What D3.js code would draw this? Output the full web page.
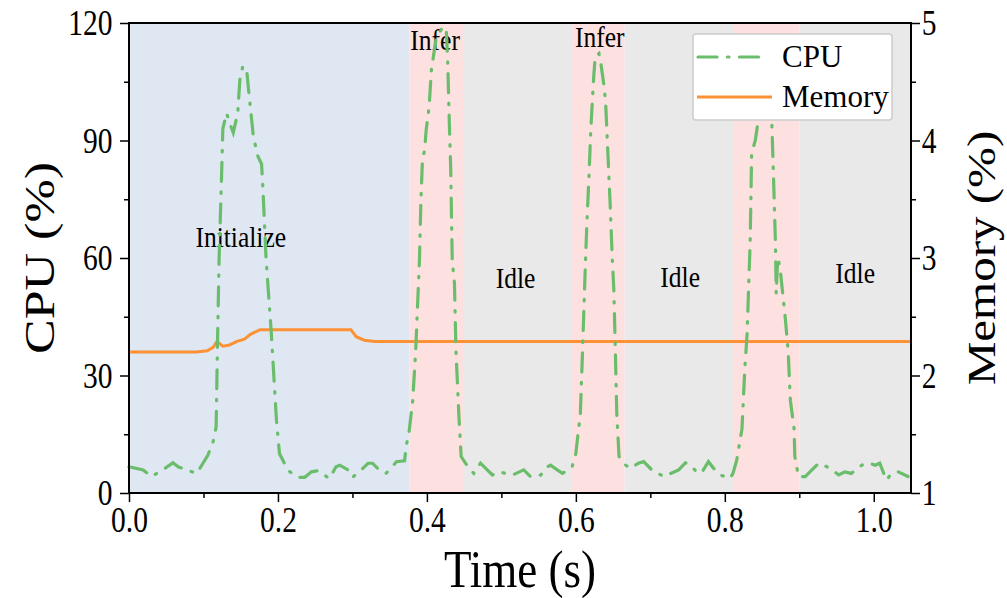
<!DOCTYPE html>
<html>
<head>
<meta charset="utf-8">
<script src="https://cdn.jsdelivr.net/npm/d3@7"></script>
<style>
  body { margin: 0; background: #fff; }
  text { font-family: "Liberation Serif", "Times New Roman", serif; fill: #000; }
</style>
</head>
<body>
<div id="container"></div>
<script>
// ---- data ----
const cpuTime = [0, 0.019, 0.030, 0.046, 0.059, 0.066, 0.077, 0.091, 0.106, 0.113, 0.117, 0.119, 0.121,
  0.124, 0.126, 0.131, 0.136, 0.140, 0.146, 0.149, 0.153, 0.158, 0.160, 0.167, 0.173, 0.178, 0.180, 0.184, 0.191,
  0.198, 0.202, 0.211, 0.216, 0.227, 0.236, 0.245, 0.254, 0.269, 0.278, 0.283, 0.294, 0.300, 0.309, 0.321, 0.327,
  0.336, 0.345, 0.352, 0.359, 0.370, 0.372, 0.376, 0.381, 0.385, 0.390, 0.392, 0.394, 0.397, 0.399, 0.403, 0.406,
  0.408, 0.412, 0.421, 0.426, 0.428, 0.430, 0.432, 0.434, 0.437, 0.439, 0.443, 0.446, 0.455, 0.463, 0.472, 0.481,
  0.488, 0.497, 0.506, 0.515, 0.530, 0.539, 0.553, 0.562, 0.566, 0.575, 0.582, 0.595, 0.600, 0.602, 0.606, 0.609,
  0.613, 0.615, 0.618, 0.620, 0.622, 0.624, 0.626, 0.631, 0.633, 0.638, 0.640, 0.642, 0.644, 0.646, 0.649, 0.651,
  0.653, 0.655, 0.658, 0.667, 0.673, 0.684, 0.691, 0.702, 0.718, 0.738, 0.747, 0.754, 0.763, 0.769, 0.778, 0.785,
  0.794, 0.807, 0.811, 0.816, 0.823, 0.827, 0.830, 0.832, 0.834, 0.835, 0.836, 0.841, 0.845, 0.853, 0.863, 0.865,
  0.868, 0.869, 0.871, 0.874, 0.881, 0.885, 0.888, 0.893, 0.894, 0.899, 0.908, 0.917, 0.926, 0.937, 0.944, 0.953,
  0.961, 0.970, 0.984, 0.993, 1.002, 1.008, 1.017, 1.024, 1.033, 1.046];
const cpuValue = [6.7, 5.9, 4.2, 6.0, 7.7, 6.7, 5.9, 5.0, 9.7, 13.1, 16.9, 40, 60,
  79, 93, 97, 94, 92, 97, 106, 109, 108, 104, 91, 86, 84, 77, 60, 41,
  18.6, 10.1, 6.7, 5.4, 4.0, 4.0, 5.4, 5.7, 3.7, 6.7, 7.1, 5.9, 4.0, 5.4, 7.6, 7.6,
  5.9, 5.0, 6.3, 8.0, 8.2, 11.8, 15.5, 23.7, 36.5, 59.5, 74.8, 85, 87.6, 92.7, 98.6, 108,
  110.5, 115.6, 119, 118.5, 109.7, 95.2, 82.5, 59.5, 53.5, 36.5, 19.5, 9.3, 6.7, 5.0, 7.6, 5.9,
  4.6, 5.4, 5.0, 4.6, 5.9, 4.2, 4.6, 6.7, 7.1, 5.9, 5.0, 6.7, 10.1, 13.5, 20, 36.5,
  59.5, 69.7, 82.5, 92.7, 99.5, 106.3, 111.4, 112.2, 110.5, 103.7, 99.5, 91, 82.5, 74, 59.5, 51.8,
  36.5, 20, 9.3, 7.1, 6.3, 7.6, 8.0, 5.9, 4.2, 5.9, 7.7, 7.1, 5.2, 5.2, 8.0, 6.3,
  4.6, 3.7, 5.0, 8.4, 16.3, 32.2, 40.8, 52.7, 63.7, 74.8, 86.7, 90.1, 95.2, 100, 95.2, 83.3,
  63.7, 51, 60, 57.8, 45, 36.5, 23.7, 16.5, 9.3, 4.2, 4.2, 5.9, 7.6, 6.7, 5.9, 4.6,
  5.4, 5.0, 7.1, 7.7, 7.1, 7.6, 3.3, 5.0, 5.4, 4.2];

const memTime = [0, 0.090, 0.105, 0.113, 0.118, 0.126, 0.135, 0.145, 0.155, 0.163, 0.176, 0.298, 0.305, 0.316, 0.330, 1.05];
const memValue = [2.2, 2.2, 2.21, 2.24, 2.29, 2.25, 2.26, 2.29, 2.31, 2.35, 2.39, 2.39, 2.33, 2.30, 2.29, 2.29];

// shaded phases
const phaseStart = [0, 0.3765, 0.4485, 0.5935, 0.6655, 0.811, 0.900];
const phaseEnd   = [0.3765, 0.4485, 0.5935, 0.6655, 0.811, 0.900, 1.05];
const phaseType  = ["init", "infer", "idle", "infer", "idle", "infer", "idle"];

// phase captions (time, cpu-axis height)
const labelText = ["Initialize", "Infer", "Infer", "Idle", "Idle", "Idle"];
const labelTime = [0.150, 0.411, 0.632, 0.519, 0.740, 0.975];
const labelCpu  = [62.8, 113.1, 113.9, 52.3, 52.6, 53.6];

const xMajor = [0, 0.2, 0.4, 0.6, 0.8, 1.0];
const xMinor = [0.1, 0.3, 0.5, 0.7, 0.9];
const cpuMajor = [0, 30, 60, 90, 120];
const cpuMinor = [15, 45, 75, 105];
const memMajor = [1, 2, 3, 4, 5];
const memMinor = [1.5, 2.5, 3.5, 4.5];

// ---- layout ----
let w = 1007;
let h = 598;
let plotL = 129, plotR = 911, plotT = 23, plotB = 493;
// the source figure is a bit taller than wide, so text gets squeezed sideways
let squeeze = 0.82;

const phaseColor = { init: "#dfe7f2", infer: "#fde1e1", idle: "#e9e9e9" };
const cpuColor = "#6abd6a";
const memColor = "#fd9136";

let viz = d3.select("#container")
  .append("svg")
    .attr("width", w)
    .attr("height", h);

let xScale = d3.scaleLinear().domain([0, 1.05]).range([plotL, plotR]);
let yCpu = d3.scaleLinear().domain([0, 120]).range([plotB, plotT]);
let yMem = d3.scaleLinear().domain([1, 5]).range([plotB, plotT]);

// phase backgrounds
viz.append("g").selectAll("rect")
  .data(phaseType)
  .enter().append("rect")
    .attr("x", (d, i) => xScale(phaseStart[i]))
    .attr("width", (d, i) => xScale(phaseEnd[i]) - xScale(phaseStart[i]))
    .attr("y", plotT)
    .attr("height", plotB - plotT)
    .attr("fill", d => phaseColor[d]);

// captions
viz.append("g").selectAll("text")
  .data(labelText)
  .enter().append("text")
    .attr("transform", (d, i) => "translate(" + xScale(labelTime[i]) + "," + yCpu(labelCpu[i]) + ") scale(0.88,1)")
    .attr("text-anchor", "middle")
    .style("font-size", "29px")
    .text(d => d);

// lines
let cpuLine = d3.line().x((d, i) => xScale(cpuTime[i])).y(d => yCpu(d));
let memLine = d3.line().x((d, i) => xScale(memTime[i])).y(d => yMem(d));

viz.append("path")
  .attr("d", memLine(memValue))
  .attr("fill", "none")
  .attr("stroke", memColor)
  .attr("stroke-width", 3);

viz.append("path")
  .attr("d", cpuLine(cpuValue))
  .attr("fill", "none")
  .attr("stroke", cpuColor)
  .attr("stroke-width", 3.2)
  .attr("stroke-linecap", "round")
  .attr("stroke-dasharray", "19,10.5,1.5,10.5");

// axes
function styleAxis(g) {
  g.select(".domain").remove();
  g.selectAll(".tick line").attr("stroke", "#000").attr("stroke-width", 1.5);
  g.selectAll(".tick text")
    .style("font-size", "36px")
    .attr("transform", "scale(" + squeeze + ",1)");
}

let xAxis = viz.append("g")
  .attr("transform", "translate(0," + plotB + ")")
  .call(d3.axisBottom(xScale).tickValues(xMajor).tickFormat(d3.format(".1f")).tickSize(9).tickPadding(4));
styleAxis(xAxis);
let xMinorAxis = viz.append("g")
  .attr("transform", "translate(0," + plotB + ")")
  .call(d3.axisBottom(xScale).tickValues(xMinor).tickFormat("").tickSize(5));
styleAxis(xMinorAxis);

let yAxis = viz.append("g")
  .attr("transform", "translate(" + plotL + ",0)")
  .call(d3.axisLeft(yCpu).tickValues(cpuMajor).tickSize(9).tickPadding(11));
styleAxis(yAxis);
let yMinorAxis = viz.append("g")
  .attr("transform", "translate(" + plotL + ",0)")
  .call(d3.axisLeft(yCpu).tickValues(cpuMinor).tickFormat("").tickSize(5));
styleAxis(yMinorAxis);

let y2Axis = viz.append("g")
  .attr("transform", "translate(" + plotR + ",0)")
  .call(d3.axisRight(yMem).tickValues(memMajor).tickFormat(d3.format("d")).tickSize(9).tickPadding(4));
styleAxis(y2Axis);
let y2MinorAxis = viz.append("g")
  .attr("transform", "translate(" + plotR + ",0)")
  .call(d3.axisRight(yMem).tickValues(memMinor).tickFormat("").tickSize(5));
styleAxis(y2MinorAxis);

// frame
viz.append("rect")
  .attr("x", plotL).attr("y", plotT)
  .attr("width", plotR - plotL).attr("height", plotB - plotT)
  .attr("fill", "none").attr("stroke", "#000").attr("stroke-width", 2);

// axis titles
viz.append("text")
  .attr("transform", "translate(" + (plotL + plotR) / 2 + ",587) scale(0.85,1)")
  .attr("text-anchor", "middle")
  .style("font-size", "53px")
  .text("Time (s)");

viz.append("text")
  .attr("transform", "translate(54," + (plotT + plotB) / 2 + ") rotate(-90) scale(1," + squeeze + ")")
  .attr("text-anchor", "middle")
  .style("font-size", "52px")
  .text("CPU (%)");

viz.append("text")
  .attr("transform", "translate(995," + (plotT + plotB) / 2 + ") rotate(-90) scale(1," + squeeze + ")")
  .attr("text-anchor", "middle")
  .style("font-size", "49px")
  .text("Memory (%)");

// legend
let legend = viz.append("g");
legend.append("rect")
  .attr("x", 693).attr("y", 34).attr("width", 199).attr("height", 86).attr("rx", 3)
  .attr("fill", "#fff").attr("stroke", "#cccccc").attr("stroke-width", 1.5);
legend.append("line")
  .attr("x1", 698).attr("x2", 768).attr("y1", 57).attr("y2", 57)
  .attr("stroke", cpuColor).attr("stroke-width", 3.2)
  .attr("stroke-linecap", "round").attr("stroke-dasharray", "19,10.5,1.5,10.5");
legend.append("line")
  .attr("x1", 697).attr("x2", 772).attr("y1", 97).attr("y2", 97)
  .attr("stroke", memColor).attr("stroke-width", 3);
legend.append("text").attr("x", 782).attr("y", 67).style("font-size", "31px").text("CPU");
legend.append("text").attr("x", 782).attr("y", 107).style("font-size", "31px").text("Memory");
</script>
</body>
</html>
